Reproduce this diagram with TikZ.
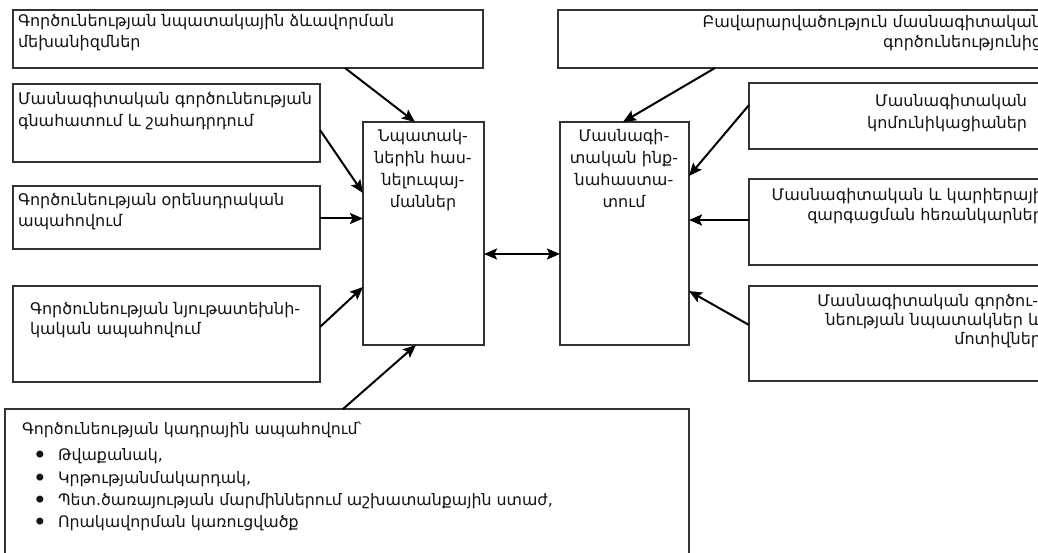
\documentclass[tikz,border=0pt]{standalone}
\usepackage{fontspec}
\setmainfont{DejaVu Sans}
\usetikzlibrary{arrows.meta}
\begin{document}
\begin{tikzpicture}[x=1pt,y=-1pt,
  box/.style={draw=black!80, line width=1.2pt, inner sep=0pt, outer sep=0pt, anchor=north west},
  txt/.style={inner sep=0pt, outer sep=0pt, text=black!92, font=\fontsize{16}{20}\selectfont},
  lb/.style={txt, anchor=base west},
  rb/.style={txt, anchor=base east},
  cb/.style={txt, anchor=base},
  sb/.style={lb, font=\fontsize{15.8}{18}\selectfont},
  bul/.style={txt, anchor=base, font=\fontsize{24}{24}\selectfont},
  arr/.style={line width=2pt, -{Stealth[length=13pt,width=11pt,inset=2.5pt]}},
  darr/.style={line width=2pt, {Stealth[length=13pt,width=11pt,inset=2.5pt]}-{Stealth[length=13pt,width=11pt,inset=2.5pt]}}]
\useasboundingbox (0,0) rectangle (1038,553);
\clip (0,0) rectangle (1038,553);
\fill[white] (0,0) rectangle (1038,553);
% left boxes
\node[box, minimum width=470, minimum height=58] (b1) at (13,10) {};
\node[box, minimum width=307, minimum height=78] (b2) at (13,84) {};
\node[box, minimum width=307, minimum height=63] (b3) at (13,186) {};
\node[box, minimum width=307, minimum height=96] (b4) at (13,286) {};
\node[box, minimum width=684, minimum height=160] (b5) at (5,409) {};
% middle boxes
\node[box, minimum width=121, minimum height=223] (ml) at (363,122) {};
\node[box, minimum width=129, minimum height=223] (mr) at (560,122) {};
% right boxes
\node[box, minimum width=500, minimum height=58] (tr) at (558,10) {};
\node[box, minimum width=310, minimum height=66] (r2) at (749,83) {};
\node[box, minimum width=310, minimum height=86] (r3) at (749,179) {};
\node[box, minimum width=310, minimum height=95] (r4) at (749,286) {};
% texts, left
\node[lb] (t1a) at (18,27) {Գործունեության նպատակային ձևավորման};
\node[lb] (t1b) at (18,48) {մեխանիզմներ};
\node[lb] (t2a) at (18,105) {Մասնագիտական գործունեության};
\node[lb] (t2b) at (18,127) {գնահատում և շահադրդում};
\node[lb] (t3a) at (18,206) {Գործունեության օրենսդրական};
\node[lb] (t3b) at (18,227) {ապահովում};
\node[lb] (t4a) at (30,314) {Գործունեության նյութատեխնի-};
\node[lb] (t4b) at (30,334) {կական ապահովում};
% bottom box
\node[sb] (t5) at (22,434) {Գործունեության կադրային ապահովում՝};
\node[bul] (u1) at (40,463) {•};
\node[sb] (v1) at (58,460) {Թվաքանակ,};
\node[bul] (u2) at (40,486) {•};
\node[sb] (v2) at (58,483) {Կրթությանմակարդակ,};
\node[bul] (u3) at (40,508) {•};
\node[sb] (v3) at (58,505) {Պետ.ծառայության մարմիններում աշխատանքային ստաժ,};
\node[bul] (u4) at (40,530) {•};
\node[sb] (v4) at (58,527) {Որակավորման կառուցվածք};
% middle texts
\node[cb] (ml1) at (423,142) {Նպատակ-};
\node[cb] (ml2) at (423,164) {ներին հաս-};
\node[cb] (ml3) at (423,186) {նելուպայ-};
\node[cb] (ml4) at (423,208) {մաններ};
\node[cb] (mr1) at (624,142) {Մասնագի-};
\node[cb] (mr2) at (624,164) {տական ինք-};
\node[cb] (mr3) at (624,186) {նահաստա-};
\node[cb] (mr4) at (624,208) {տում};
% right texts
\node[rb] (s1a) at (1042,28) {Բավարարվածություն մասնագիտական};
\node[rb] (s1b) at (1042,48) {գործունեությունից};
\node[rb] (s2a) at (1027,107) {Մասնագիտական};
\node[rb] (s2b) at (1027,129) {կոմունիկացիաներ};
\node[rb] (s3a) at (1043,201) {Մասնագիտական և կարիերայի};
\node[rb] (s3b) at (1043,221) {զարգացման հեռանկարներ};
\node[rb] (s4a) at (1038,306) {Մասնագիտական գործու-};
\node[rb] (s4b) at (1041,325) {նեության նպատակներ և};
\node[rb] (s4c) at (1041,344) {մոտիվներ};
% arrows into left middle box
\draw[arr] ([xshift=332pt]b1.south west) -- ([xshift=52pt]ml.north west);
\draw[arr] ([yshift=-7pt]b2.east) -- ([yshift=40.5pt]ml.west);
\draw[arr] ([yshift=-1pt]b3.east) -- ([yshift=-1pt]b3.east -| ml.west);
\draw[arr] ([yshift=7pt]b4.east) -- ([yshift=-53.5pt]ml.west);
\draw[arr] ([xshift=338pt]b5.north west) -- ([xshift=53pt]ml.south west);
% double arrow
\draw[darr] ([yshift=-20.5pt]ml.east) -- ([yshift=-20.5pt]ml.east -| mr.west);
% arrows into right middle box
\draw[arr] ([xshift=157pt]tr.south west) -- ([xshift=63pt]mr.north west);
\draw[arr] ([yshift=11pt]r2.west) -- ([yshift=57.5pt]mr.east);
\draw[arr] ([yshift=2pt]r3.west) -- ([yshift=2pt]r3.west -| mr.east);
\draw[arr] ([yshift=8.5pt]r4.west) -- ([yshift=-57.5pt]mr.east);
\end{tikzpicture}
\end{document}
